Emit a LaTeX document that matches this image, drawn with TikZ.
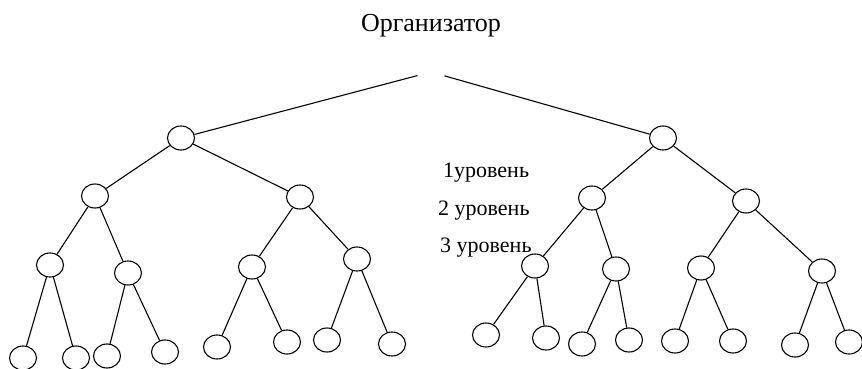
\documentclass[tikz,border=0pt]{standalone}
\usepackage{fontspec}
\setmainfont{Liberation Serif}
\usetikzlibrary{positioning, shapes.geometric}

\begin{document}
\begin{tikzpicture}
    [x=1pt, y=1pt, grow=down,
    every child node/.style={ellipse, draw=black, line width=1.1pt,
    minimum width=27pt, minimum height=24pt, inner sep=0pt},
    edge from parent/.style={draw=black, line width=1.1pt},
    level 1/.style={level distance=66pt, sibling distance=482pt,
    edge from parent/.style={draw=black, line width=1.1pt, shorten <=14pt}},
    level 2/.style={level distance=60pt, sibling distance=180pt,
    edge from parent/.style={draw=black, line width=1.1pt}},
    level 3/.style={level distance=70pt, sibling distance=96pt},
    level 4/.style={level distance=78pt, sibling distance=58pt},
    orgtext/.style={font=\fontsize{26}{30}\selectfont, inner sep=0pt},
    lvltext/.style={font=\fontsize{22}{26}\selectfont, inner sep=0pt, anchor=base west}]
    \useasboundingbox (0,0) rectangle (862,-369);
    \coordinate (top) at (431,-72)
        child [xshift=-9pt] {
            node (l) {}
            child [xshift=4pt, yshift=2pt] {
                node (ll) {}
                child [xshift=3pt, yshift=1pt] {
                    node (lll) {}
                    child [xshift=2pt, yshift=-15pt] {node (llll) {}}
                    child [xshift=-3pt, yshift=-15pt] {node (lllr) {}}
                }
                child [xshift=-15pt, yshift=-7pt] {
                    node (llr) {}
                    child [xshift=8pt, yshift=-5pt] {node (llrl) {}}
                    child [xshift=8pt, yshift=-1pt] {node (llrr) {}}
                }
            }
            child [xshift=29pt, yshift=1pt] {
                node (lr) {}
                child {
                    node (lrl) {}
                    child [xshift=-6pt, yshift=-2pt] {node (lrll) {}}
                    child [xshift=6pt, yshift=3pt] {node (lrlr) {}}
                }
                child [xshift=9pt, yshift=8pt] {
                    node (lrr) {}
                    child [xshift=-1pt, yshift=-3pt] {node (lrrl) {}}
                    child [xshift=6pt, yshift=-7pt] {node (lrrr) {}}
                }
            }
        }
        child [xshift=-9pt] {
            node (r) {}
            child [xshift=19pt] {
                node (rl) {}
                child [xshift=-9pt, yshift=2pt] {
                    node (rll) {}
                    child [xshift=-20pt, yshift=9pt] {node (rlll) {}}
                    child [xshift=-18pt, yshift=6pt] {node (rllr) {}}
                }
                child [xshift=-24pt, yshift=-1pt] {
                    node (rlr) {}
                    child [xshift=-5pt, yshift=3pt] {node (rlrl) {}}
                    child [xshift=-16pt, yshift=7pt] {node (rlrr) {}}
                }
            }
            child [xshift=-7pt, yshift=-3pt] {
                node (rr) {}
                child [xshift=3pt, yshift=3pt] {
                    node (rrl) {}
                    child [xshift=3pt, yshift=5pt] {node (rrll) {}}
                    child [xshift=3pt, yshift=5pt] {node (rrlr) {}}
                }
                child [xshift=28pt] {
                    node (rrr) {}
                    child [xshift=2pt, yshift=4pt] {node (rrrl) {}}
                    child [xshift=-2pt, yshift=7pt] {node (rrrr) {}}
                }
            }
        };
    \node (org) [orgtext, above=35pt of top] {Организатор};
    \node (lvl1) [lvltext] at (443,-177) {1уровень};
    \node (lvl2) [lvltext] at (438,-215) {2 уровень};
    \node (lvl3) [lvltext] at (440,-252) {3 уровень};
\end{tikzpicture}
\end{document}
